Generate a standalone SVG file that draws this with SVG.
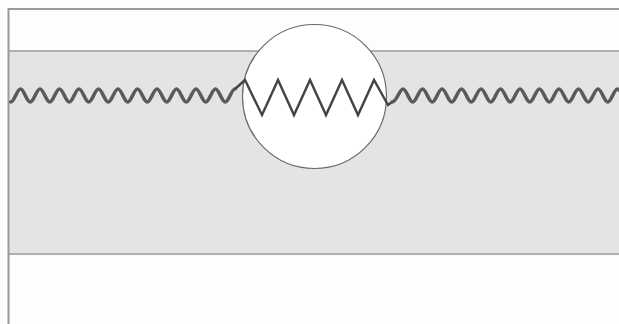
<svg xmlns="http://www.w3.org/2000/svg" width="619" height="324" viewBox="0 0 619 324">
<style>
.frame{stroke:#9a9a9a;stroke-width:2;fill:none}
.edge{stroke:#b0b0b0;stroke-width:2;fill:none}
.wave{stroke:#5a5a5a;stroke-width:3.6;fill:none;stroke-linejoin:round;stroke-linecap:round}
.zig{stroke:#444;stroke-width:2.4;fill:none;stroke-linejoin:miter}
</style>
<rect x="0" y="0" width="619" height="324" fill="#fdfdfd"/>
<g id="band">
<rect x="9" y="51" width="610" height="203" fill="#e4e4e4"/>
<line class="edge" x1="9" y1="51" x2="619" y2="51"/>
<line class="edge" x1="9" y1="254" x2="619" y2="254"/>
</g>
<g id="frame">
<line class="frame" x1="8" y1="9" x2="619" y2="9"/>
<line class="frame" x1="8.5" y1="8" x2="8.5" y2="324"/>
</g>
<g id="circle">
<circle cx="314.5" cy="96.5" r="72" fill="#fff" stroke="#6a6a6a" stroke-width="1.2"/>
</g>
<g id="connectors">
<path class="wave" d="M10.75,102 C14.3,102 17,89 20.5,89 S26.7,102 30.25,102 S36.45,89 40,89 S46.2,102 49.75,102 S55.95,89 59.5,89 S65.7,102 69.25,102 S75.45,89 79,89 S85.2,102 88.75,102 S94.95,89 98.5,89 S104.7,102 108.25,102 S114.45,89 118,89 S124.2,102 127.75,102 S133.95,89 137.5,89 S143.7,102 147.25,102 S153.45,89 157,89 S163.2,102 166.75,102 S172.95,89 176.5,89 S182.7,102 186.25,102 S192.45,89 196,89 S202.2,102 205.75,102 S211.95,89 215.5,89 S221.7,102 225.25,102 S231.45,89 235,89"/>
<path class="zig" d="M235,89 L245,80 L262,115 L278,80 L294,115 L310,80 L326,115 L342,80 L358,115 L374,80 L388,105 L392,102"/>
<path class="wave" d="M392,102 C396.8,102 399.45,89 403,89 S409.2,102 412.75,102 S418.95,89 422.5,89 S428.7,102 432.25,102 S438.45,89 442,89 S448.2,102 451.75,102 S457.95,89 461.5,89 S467.7,102 471.25,102 S477.45,89 481,89 S487.2,102 490.75,102 S496.95,89 500.5,89 S506.7,102 510.25,102 S516.45,89 520,89 S526.2,102 529.75,102 S535.95,89 539.5,89 S545.7,102 549.25,102 S555.45,89 559,89 S565.2,102 568.75,102 S574.95,89 578.5,89 S584.7,102 588.25,102 S594.45,89 598,89 S604.2,102 607.75,102 S613.95,89 617.5,89 S623.7,102 627.25,102"/>
</g>
</svg>
